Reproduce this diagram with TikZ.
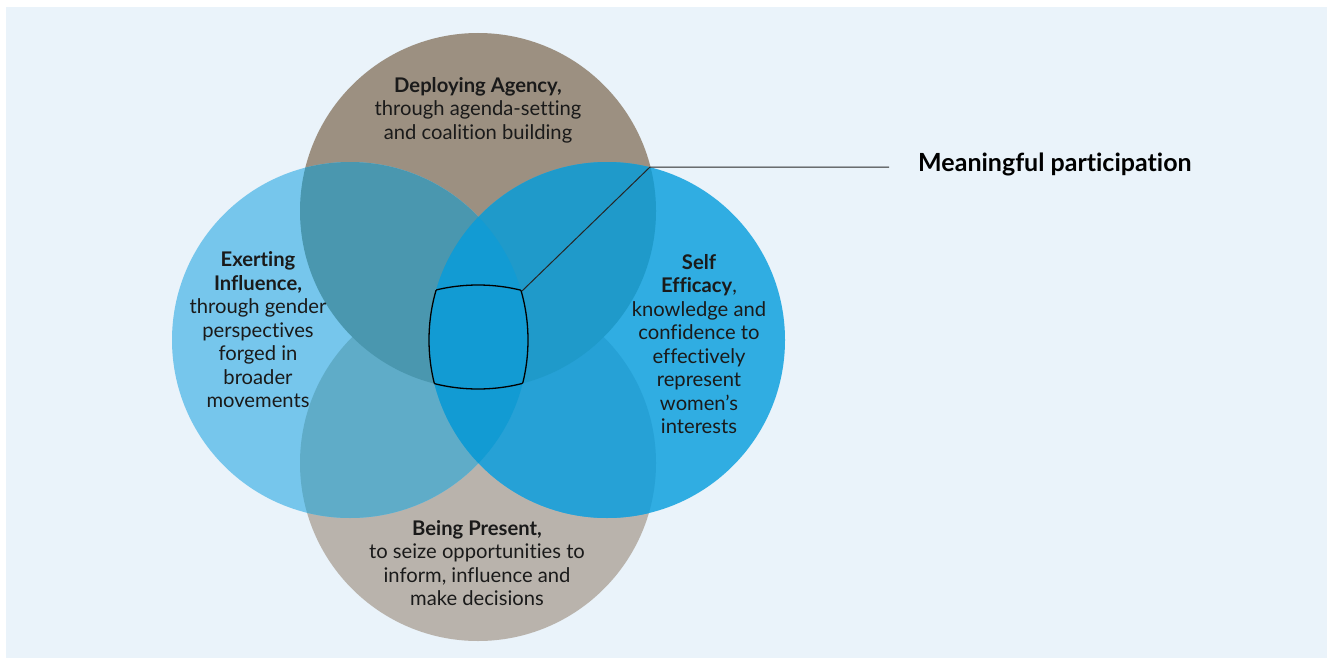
\documentclass[tikz,border=0pt]{standalone}
\usepackage{fontspec}
\setmainfont{Lato}[Ligatures={NoCommon}]
\definecolor{bgblue}{HTML}{EAF3FA}
\definecolor{agencybrown}{HTML}{9C9081}
\definecolor{presentgray}{HTML}{B9B3AC}
\definecolor{influenceblue}{HTML}{76C6EC}
\definecolor{efficacyblue}{HTML}{30ADE2}
\definecolor{agencyinfl}{HTML}{4A97AF}
\definecolor{agencyeff}{HTML}{1F9ACA}
\definecolor{presentinfl}{HTML}{5FACC8}
\definecolor{presenteff}{HTML}{26A1D6}
\definecolor{corecol}{HTML}{129BD3}
\definecolor{textgray}{HTML}{1A1A1A}
\tikzstyle{blurb} = [align=center, text=textgray, inner sep=0pt, font=\fontsize{20.2}{23.5}\selectfont]
\tikzstyle{callout} = [anchor=west, text=black, inner sep=0pt, font=\fontsize{25}{28}\selectfont\bfseries]
\tikzstyle{pointer} = [draw=black!85, line width=1pt]
\newcommand{\ring}[1]{(#1) circle [radius=178pt]}

\begin{document}
\begin{tikzpicture}[x=1pt, y=-1pt]
    \useasboundingbox (0,0) rectangle (1327,658);
    \fill [white] (0,0) rectangle (1327,658);
    \fill [bgblue] (6,7) rectangle (1327,658);

    % circle centres
    \coordinate (agencyc) at (478,211);
    \coordinate (presentc) at (478,463);
    \coordinate (influencec) at (350,340);
    \coordinate (efficacyc) at (607,340);

    % single circles
    \fill [agencybrown] \ring{agencyc};
    \fill [presentgray] \ring{presentc};
    \fill [influenceblue] \ring{influencec};
    \fill [efficacyblue] \ring{efficacyc};

    % overlaps
    \begin{scope}
        \clip \ring{presentc};
        \fill [presentinfl] \ring{influencec};
        \fill [presenteff] \ring{efficacyc};
    \end{scope}
    \begin{scope}
        \clip \ring{agencyc};
        \fill [agencyinfl] \ring{influencec};
        \fill [agencyeff] \ring{efficacyc};
    \end{scope}
    \begin{scope}
        \clip \ring{influencec};
        \fill [corecol] \ring{efficacyc};
    \end{scope}

    % outline of the common core
    \begin{scope}
        \clip \ring{agencyc}; \clip \ring{influencec}; \clip \ring{efficacyc};
        \draw [line width=1.3pt] \ring{presentc};
    \end{scope}
    \begin{scope}
        \clip \ring{presentc}; \clip \ring{influencec}; \clip \ring{efficacyc};
        \draw [line width=1.3pt] \ring{agencyc};
    \end{scope}
    \begin{scope}
        \clip \ring{agencyc}; \clip \ring{presentc}; \clip \ring{efficacyc};
        \draw [line width=1.3pt] \ring{influencec};
    \end{scope}
    \begin{scope}
        \clip \ring{agencyc}; \clip \ring{presentc}; \clip \ring{influencec};
        \draw [line width=1.3pt] \ring{efficacyc};
    \end{scope}

    % texts
    \node (agency) [blurb] at (478,110) {\textbf{Deploying Agency,}\\through agenda-setting\\and coalition building};
    \node (influence) [blurb] at (258,330) {\textbf{Exerting}\\\textbf{Influence,}\\through gender\\perspectives\\forged in\\broader\\movements};
    \node (efficacy) [blurb] at (699,344) {\textbf{Self}\\\textbf{Efficacy},\\knowledge and\\confidence to\\effectively\\represent\\women’s\\interests};
    \node (present) [blurb] at (477,563) {\textbf{Being Present,}\\to seize opportunities to\\inform, influence and\\make decisions};
    \node (meaning) [callout] at (918,164) {Meaningful participation};

    % pointer to the core
    \coordinate (core) at (522,291);
    \coordinate (bend) at (650,167);
    \coordinate (lineend) at (889,167);
    \draw [pointer] (core) -- (bend) -- (lineend);
\end{tikzpicture}
\end{document}
